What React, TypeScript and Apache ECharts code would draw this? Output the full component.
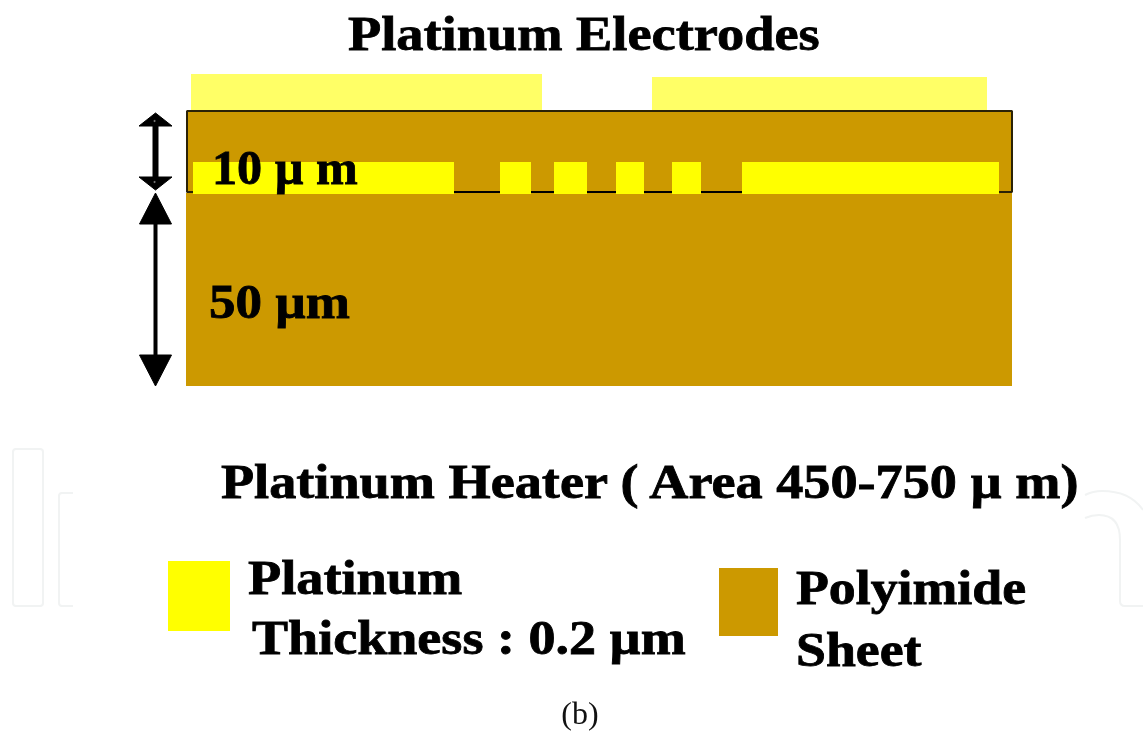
import React, { useEffect, useRef } from "react";
import * as echarts from "echarts";

// Diagram geometry: [x0, x1, y0, y1] in picture units
const electrodes = [[191, 542, 74, 111], [652, 987, 77, 111]];
const coverSheet = [[187, 1012, 111, 193]];
const baseSheet = [[186, 1012, 193, 386]];
const heaterSegments = [
  [193, 454, 162, 194], [500, 531, 162, 194], [554, 587, 162, 194],
  [616, 644, 162, 194], [672, 701, 162, 194], [742, 999, 162, 194],
];
const legendPlatinum = [[168, 230, 561, 631]];
const legendPolyimide = [[719, 778, 568, 636]];
// cover outline: polyline, broken where the heater segments interrupt the base edge
const outlineTop = [[193, 192], [187, 192], [187, 111], [1012, 111], [1012, 192], [999, 192]];
const outlineGaps = [[454, 500], [531, 554], [587, 616], [644, 672], [701, 742]];
// arrows: x, y start, y end, head half width, head length, shaft width
const arrows = [
  [155.5, 113, 190, 16.5, 13, 6],
  [155.5, 193, 386, 16, 31, 4],
];
const arrowEyes = [[154.5, 121], [154.5, 182]];
// label, x, y, font size, horizontal stretch
const texts: [string, number, number, number, number][] = [
  ["Platinum Electrodes", 348, 34, 48, 1.133],
  ["10 µ m", 212, 168, 48, 1.045],
  ["50 µm", 209, 302, 48, 1.105],
  ["Platinum Heater ( Area 450-750 µ m)", 221, 482, 48, 1.13],
  ["Platinum", 248, 578, 48, 1.132],
  ["Thickness : 0.2 µm", 252, 638, 48, 1.127],
  ["Polyimide", 796, 588, 48, 1.121],
  ["Sheet", 796, 650, 48, 1.121],
];
const caption = "(b)";

const WM = "#f1f3f3";
const watermarkPaths = [
  "M16 449 H40 Q43 449 43 452 V603 Q43 606 40 606 H16 Q13 606 13 603 V452 Q13 449 16 449 Z",
  "M73 493 H62 Q59 493 59 496 V603 Q59 606 62 606 H73",
  "M1085 495 Q1093 491 1102 491 Q1130 491 1143 510",
  "M1085 518 Q1092 515 1099 515 Q1120 515 1120 540 V601 Q1120 606 1125 606 H1143",
];

export default function App() {
  const ref = useRef<HTMLDivElement>(null);
  useEffect(() => {
    document.body.style.margin = "0";
    const chart = echarts.init(ref.current!, undefined, { renderer: "svg" });
    const rectSeries = (name: string, data: number[][], color: string, z: number) => ({
      type: "custom", name, coordinateSystem: "cartesian2d", z, silent: true,
      data,
      renderItem: (_: any, api: any) => {
        const a = api.coord([api.value(0), api.value(2)]);
        const b = api.coord([api.value(1), api.value(3)]);
        return { type: "rect", shape: { x: a[0], y: a[1], width: b[0] - a[0], height: b[1] - a[1] }, style: { fill: color } };
      },
    });
    const option: any = {
      animation: false,
      backgroundColor: "#ffffff",
      grid: { left: 0, right: 0, top: 0, bottom: 0 },
      xAxis: { type: "value", min: 0, max: 1143, show: false },
      yAxis: { type: "value", min: 0, max: 731, inverse: true, show: false },
      graphic: [
        ...watermarkPaths.map((d, i) => {
          const name = "wm" + i;
          echarts.graphic.registerShape(name, echarts.graphic.extendPath(d as any, {}) as any);
          return { type: name, x: 0, y: 0, z: 1, style: { fill: "none", stroke: WM, lineWidth: 2 } };
        }),
        ...texts.map(([t, x, y, size, sx]) => ({
          type: "text", x, y, z: 20, scaleX: sx, scaleY: 1,
          style: { text: t, x: 0, y: 0, fill: "#000", stroke: "#000", lineWidth: 0.8, font: `bold ${size}px "Liberation Serif"`, textAlign: "left", textVerticalAlign: "middle" },
        })),
        { type: "text", x: 580, y: 713, z: 20, style: { text: caption, fill: "#111", font: `32px "Liberation Serif"`, textAlign: "center", textVerticalAlign: "middle" } },
      ],
      series: [
        rectSeries("Polyimide cover", coverSheet, "#cc9900", 3),
        rectSeries("Polyimide base", baseSheet, "#cc9900", 3),
        rectSeries("Electrodes", electrodes, "#ffff66", 2),
        rectSeries("Heater", heaterSegments, "#ffff00", 6),
        rectSeries("Legend platinum", legendPlatinum, "#ffff00", 3),
        rectSeries("Legend polyimide", legendPolyimide, "#cc9900", 3),
        {
          type: "line", data: outlineTop, symbol: "none", z: 5, silent: true,
          lineStyle: { color: "#2a2206", width: 2 },
        },
        {
          type: "custom", coordinateSystem: "cartesian2d", z: 5, silent: true, data: outlineGaps,
          renderItem: (_: any, api: any) => {
            const a = api.coord([api.value(0), 192]);
            const b = api.coord([api.value(1), 192]);
            return { type: "line", shape: { x1: a[0], y1: a[1], x2: b[0], y2: b[1] }, style: { stroke: "#000", lineWidth: 2 } };
          },
        },
        {
          type: "custom", coordinateSystem: "cartesian2d", z: 15, silent: true, data: arrows,
          renderItem: (_: any, api: any) => {
            const x = api.value(0), y0 = api.value(1), y1 = api.value(2), hw = api.value(3), hl = api.value(4), sw = api.value(5);
            const P = (px: number, py: number) => api.coord([px, py]);
            return {
              type: "group",
              children: [
                { type: "polygon", shape: { points: [P(x, y0), P(x - hw, y0 + hl), P(x + hw, y0 + hl)] }, style: { fill: "#000", stroke: "#000", lineWidth: 1 } },
                { type: "polygon", shape: { points: [P(x, y1), P(x - hw, y1 - hl), P(x + hw, y1 - hl)] }, style: { fill: "#000", stroke: "#000", lineWidth: 1 } },
                { type: "rect", shape: { x: x - sw / 2, y: y0 + hl - 1, width: sw, height: y1 - y0 - 2 * hl + 2 }, style: { fill: "#000" } },
              ],
            };
          },
        },
        {
          type: "custom", coordinateSystem: "cartesian2d", z: 16, silent: true, data: arrowEyes,
          renderItem: (_: any, api: any) => {
            const c = api.coord([api.value(0), api.value(1)]);
            return { type: "circle", shape: { cx: c[0], cy: c[1], r: 1 }, style: { fill: "#777" } };
          },
        },
      ],
    };
    chart.setOption(option);
    return () => chart.dispose();
  }, []);
  return <div ref={ref} style={{ position: "absolute", left: 0, top: 0, width: 1143, height: 731, filter: "blur(0.6px)" }} />;
}
